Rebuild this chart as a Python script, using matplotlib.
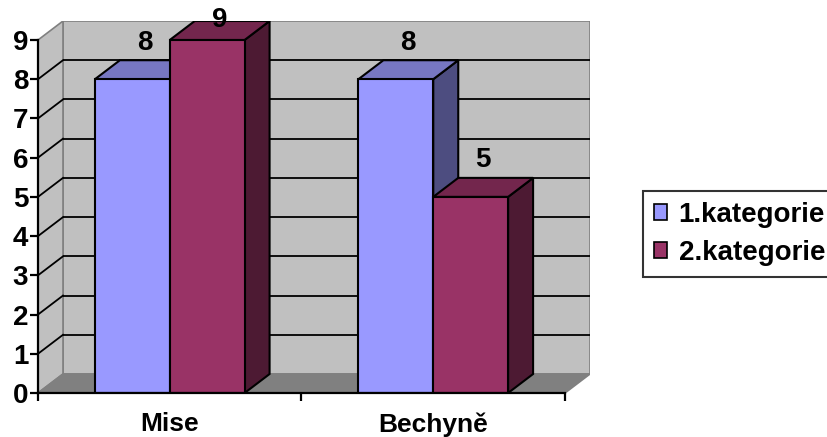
import matplotlib
matplotlib.use("Agg")
import matplotlib.pyplot as plt
from matplotlib.patches import Polygon, Patch

# Data
categories = ["Mise", "Bechyně"]
series_names = ["1.kategorie", "2.kategorie"]
values_cat1 = [8, 8]
values_cat2 = [9, 5]
y_ticks = list(range(10))

# Style
front_colors = ["#9999FF", "#993366"]
top_colors = ["#7777C2", "#73264D"]
side_colors = ["#4D4D80", "#4D1A33"]
wall_color = "#C0C0C0"
floor_color = "#808080"
edge_gray = "#808080"
font = "Liberation Sans"
fs = 20

W, H = 828, 437
fig = plt.figure(figsize=(W / 100, H / 100), dpi=100)

# plot-area pixel frame (front-left-bottom corner, back-top-right corner)
px_left, px_right_front, px_bottom, px_top_front = 38, 565, 393, 40
depth_px_x, depth_px_y = 25, 19
ymax = 9
units_x = (px_right_front - px_left) / 2.0
units_y = (px_bottom - px_top_front) / ymax
dx = depth_px_x / units_x
dy = depth_px_y / units_y

ax_left = px_left / W
ax_bottom = (H - px_bottom) / H
ax_w = (px_right_front + depth_px_x - px_left) / W
ax_h = (px_bottom - (px_top_front - depth_px_y)) / H
ax = fig.add_axes([ax_left, ax_bottom, ax_w, ax_h])
ax.set_xlim(0, 2 + dx)
ax.set_ylim(0, ymax + dy)
ax.patch.set_visible(False)

# walls and floor
ax.add_patch(Polygon([(dx, dy), (2 + dx, dy), (2 + dx, ymax + dy), (dx, ymax + dy)],
                     closed=True, facecolor=wall_color, edgecolor=edge_gray, lw=1.2, zorder=1))
ax.add_patch(Polygon([(0, 0), (dx, dy), (dx, ymax + dy), (0, ymax)],
                     closed=True, facecolor=wall_color, edgecolor=edge_gray, lw=1.2, zorder=1))
ax.add_patch(Polygon([(0, 0), (2, 0), (2 + dx, dy), (dx, dy)],
                     closed=True, facecolor=floor_color, edgecolor=edge_gray, lw=1.2, zorder=1))

# gridlines on back wall and left wall
for k in y_ticks[1:-1]:
    ax.plot([dx, 2 + dx], [k + dy, k + dy], color="black", lw=1.3, zorder=2,
            solid_capstyle="butt")
    ax.plot([0, dx], [k, k + dy], color="black", lw=1.3, zorder=2)

# 3D bars
bar_w = 0.284
for ci in range(len(categories)):
    for si, vals in enumerate([values_cat1, values_cat2]):
        v = vals[ci]
        x0 = ci + 0.5 - bar_w + si * bar_w
        x1 = x0 + bar_w
        z = 3 + ci * 2 + si
        side = Polygon([(x1, 0), (x1 + dx, dy), (x1 + dx, v + dy), (x1, v)],
                       closed=True, facecolor=side_colors[si], edgecolor="black",
                       lw=1.5, joinstyle="miter", zorder=z)
        top = Polygon([(x0, v), (x0 + dx, v + dy), (x1 + dx, v + dy), (x1, v)],
                      closed=True, facecolor=top_colors[si], edgecolor="black",
                      lw=1.5, joinstyle="miter", zorder=z)
        front = Polygon([(x0, 0), (x1, 0), (x1, v), (x0, v)],
                        closed=True, facecolor=front_colors[si], edgecolor="black",
                        lw=1.5, joinstyle="miter", zorder=z)
        for p in (side, top, front):
            ax.add_patch(p)
        ly = min(v + dy + 0.45, ymax + 0.5)
        ax.text((x0 + x1) / 2 + dx / 2, ly, str(v), ha="center", va="center",
                fontsize=fs, fontweight="bold", family=font, zorder=20, clip_on=False)

# axes
for s in ("top", "right"):
    ax.spines[s].set_visible(False)
ax.spines["left"].set_bounds(0, ymax)
ax.spines["bottom"].set_bounds(0, 2)
for s in ("left", "bottom"):
    ax.spines[s].set_linewidth(1.6)
    ax.spines[s].set_zorder(30)
ax.set_yticks(y_ticks)
ax.set_yticklabels([str(t) for t in y_ticks])
ax.set_xticks([0, 1, 2])
ax.set_xticklabels([])
ax.set_xticks([0.5, 1.5], minor=True)
ax.set_xticklabels(categories, minor=True)
ax.tick_params(axis="both", which="major", direction="out", length=6, width=1.6)
ax.tick_params(axis="x", which="minor", length=0, pad=14)
ax.tick_params(axis="y", pad=1)
for lab in ax.get_yticklabels():
    lab.set_fontsize(fs)
    lab.set_fontweight("bold")
    lab.set_family(font)
for lab in ax.get_xticklabels(minor=True):
    lab.set_fontsize(19)
    lab.set_fontweight("bold")
    lab.set_family(font)

# legend
handles = [Patch(facecolor=c, edgecolor="black", lw=1.2) for c in front_colors]
leg = fig.legend(handles, series_names, loc="upper left",
                 bbox_to_anchor=(643 / W, 1 - 191 / H), frameon=True,
                 prop={"family": font, "weight": "bold", "size": fs},
                 handlelength=0.5, handleheight=0.5, handletextpad=0.4,
                 borderpad=0.38, labelspacing=0.45, borderaxespad=0, fancybox=False)
leg.get_frame().set_edgecolor("black")
leg.get_frame().set_linewidth(1.5)

fig.savefig("out.png", dpi=100)
